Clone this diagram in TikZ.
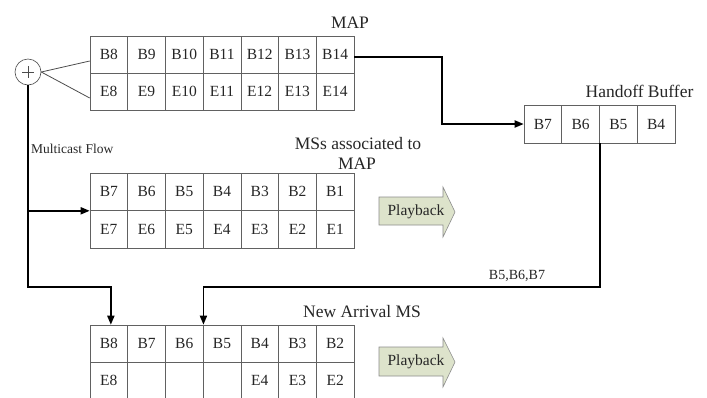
\documentclass[tikz,border=0pt]{standalone}
\usepackage{fontspec}
\setmainfont{Liberation Serif}
\usetikzlibrary{arrows.meta,calc}
\definecolor{pbfill}{HTML}{DDE3CB}
\definecolor{ink}{HTML}{262626}
\begin{document}
\begin{tikzpicture}[x=1pt,y=-1pt,
  cell/.style={draw=black!62, line width=0.6pt, minimum width=37.71pt, minimum height=37pt, inner sep=0pt, font=\fontsize{15.5}{15.5}\selectfont, text=ink},
  lbl/.style={font=\fontsize{17.5}{19}\selectfont, text=ink, inner sep=0pt, anchor=base},
  conn/.style={line width=1.8pt, black},
  arr/.style={conn, -{Triangle[length=9pt,width=7pt]}},
  pb/.style={fill=pbfill, draw=black!45, line width=0.6pt},
  pbtext/.style={font=\fontsize{15.5}{16}\selectfont, text=ink, inner sep=0pt}]
\useasboundingbox (0,0) rectangle (707,397);

% MAP table
\foreach [count=\i] \t in {B8,B9,B10,B11,B12,B13,B14}
  \node[cell] (mapb\i) at ({90+37.714*(\i-0.5)},54.5) {\t};
\foreach [count=\i] \t in {E8,E9,E10,E11,E12,E13,E14}
  \node[cell] (mape\i) at ({90+37.714*(\i-0.5)},91.5) {\t};
\node[lbl] (maplbl) at (350,28) {MAP};

% Handoff buffer
\foreach [count=\i] \t in {B7,B6,B5,B4}
  \node[cell, minimum width=37.75pt, minimum height=38pt] (hob\i) at ({524+37.75*(\i-0.5)},124) {\t};
\node[lbl] (holbl) at (639.5,97) {Handoff Buffer};

% MSs associated to MAP
\foreach [count=\i] \t in {B7,B6,B5,B4,B3,B2,B1}
  \node[cell, minimum height=37.5pt] (msb\i) at ({90+37.714*(\i-0.5)},191.75) {\t};
\foreach [count=\i] \t in {E7,E6,E5,E4,E3,E2,E1}
  \node[cell, minimum height=37.5pt] (mse\i) at ({90+37.714*(\i-0.5)},229.25) {\t};
\node[lbl] (mslbl1) at (358,149) {MSs associated to};
\node[lbl] (mslbl2) at (357,169) {MAP};

% New arrival MS
\foreach [count=\i] \t in {B8,B7,B6,B5,B4,B3,B2}
  \node[cell] (newb\i) at ({90+37.714*(\i-0.5)},343.5) {\t};
\foreach [count=\i] \t in {E8,{},{},{},E4,E3,E2}
  \node[cell] (newe\i) at ({90+37.714*(\i-0.5)},380.5) {\t};
\node[lbl] (newlbl) at (362,317) {New Arrival MS};

% Playback arrows
\path[pb] (379,197) -- (443,197) -- (443,187) -- (455,212) -- (443,237) -- (443,225) -- (379,225) -- cycle;
\node[pbtext] (pb1) at (416,212) {Playback};
\path[pb] (379,347) -- (443,347) -- (443,338) -- (455,362) -- (443,387) -- (443,376) -- (379,376) -- cycle;
\node[pbtext] (pb2) at (416,362) {Playback};

% Source
\node[circle, draw=black!70, line width=0.6pt, minimum size=26pt, inner sep=0pt, text=ink] (plus) at (28,72) {};
\draw[black!70, line width=0.6pt] (22,72) -- (34,72) (28,66) -- (28,78);
\draw[black!70, line width=0.8pt] (plus.east) -- ([yshift=-6.5pt]mapb1.west);
\draw[black!70, line width=0.8pt] (plus.east) -- ([yshift=-6.5pt]mape1.west);

\node[font=\fontsize{13.5}{14}\selectfont, text=ink, inner sep=0pt, anchor=base west] (mflbl) at (31,153) {Multicast Flow};

% Connectors
\draw[arr] (plus.south) -- ++(0,202) -| ([xshift=2pt]newb1.north);
\draw[arr] (plus.south |- msb1.south west) -- (msb1.south west);
\draw[arr] ([yshift=-2.5pt]mapb7.east) -- ++(88,0) |- (hob1.west);
\draw[arr] (hob2.south east) -- ++(0,144) -| (newb3.north east);
\node[font=\fontsize{14}{14}\selectfont, text=ink, inner sep=0pt, anchor=base] (bl) at (517,279) {B5,B6,B7};
\end{tikzpicture}
\end{document}
